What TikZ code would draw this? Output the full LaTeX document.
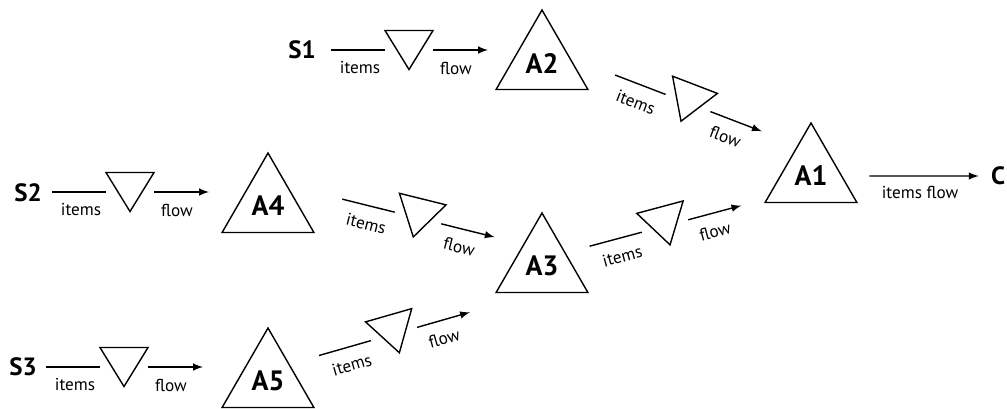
\documentclass[tikz,border=0pt]{standalone}
\usepackage{fontspec}
\setmainfont{PT Sans}
\usepackage{tikz}
\usetikzlibrary{shapes.geometric, arrows}

\tikzset{
    valve/.style={minimum width=24pt, minimum height=19.5pt, inner sep=0pt, outer sep=0pt, transform shape},
    lbl/.style={font=\fontsize{8.6}{10}\selectfont, inner sep=1pt, transform shape},
    proc/.style={draw, regular polygon, regular polygon sides=3, minimum size=53pt, inner sep=0pt,
        font=\fontsize{14}{16}\selectfont\bfseries},
    src/.style={font=\fontsize{12.5}{14}\selectfont\bfseries}
}

\begin{document}
\begin{tikzpicture}[>=latex, x=0.5pt, y=-0.5pt, line width=0.7pt]
    \useasboundingbox (0,0) rectangle (1007,408);

    % Nguồn, các khâu và đích
    \node[src] (S1) at (302,50) {S1};
    \node[src] (S2) at (28,193) {S2};
    \node[src] (S3) at (23,367) {S3};
    \node[proc] (A1) at (811,176) {A1};
    \node[proc] (A2) at (542,63) {A2};
    \node[proc] (A3) at (542,266) {A3};
    \node[proc] (A4) at (268,206) {A4};
    \node[proc] (A5) at (268,381) {A5};
    \node[src] (C) at (998,176) {C};

    % Các van trên từng dòng
    \foreach \n/\px/\py/\a in {1/409/50/0, 2/130/192/0, 3/124/367/0,
        4/688/103/-21, 5/418/218/-14, 6/665/226/15, 7/394/334/16} {
        \begin{scope}[shift={(\px,\py)}, rotate=\a]
            \node[valve] (v\n) at (0,0) {};
            \draw (v\n.north west) -- (v\n.north east) -- (v\n.south) -- cycle;
            \coordinate (i\n) at (-78,0);
            \coordinate (o\n) at (79,0);
            \draw (i\n) -- (v\n);
            \draw[->] (v\n) -- (o\n);
            \node[lbl] (t\n) at (-49,18) {items};
            \node[lbl] (f\n) at (47,18) {flow};
        \end{scope}
    }

    % Dòng ra
    \draw[->, shorten <=13.5pt, shorten >=2.5pt] (A1) -- (C)
        node[lbl, pos=0.55, below=4pt] (tf) {items flow};
\end{tikzpicture}
\end{document}
